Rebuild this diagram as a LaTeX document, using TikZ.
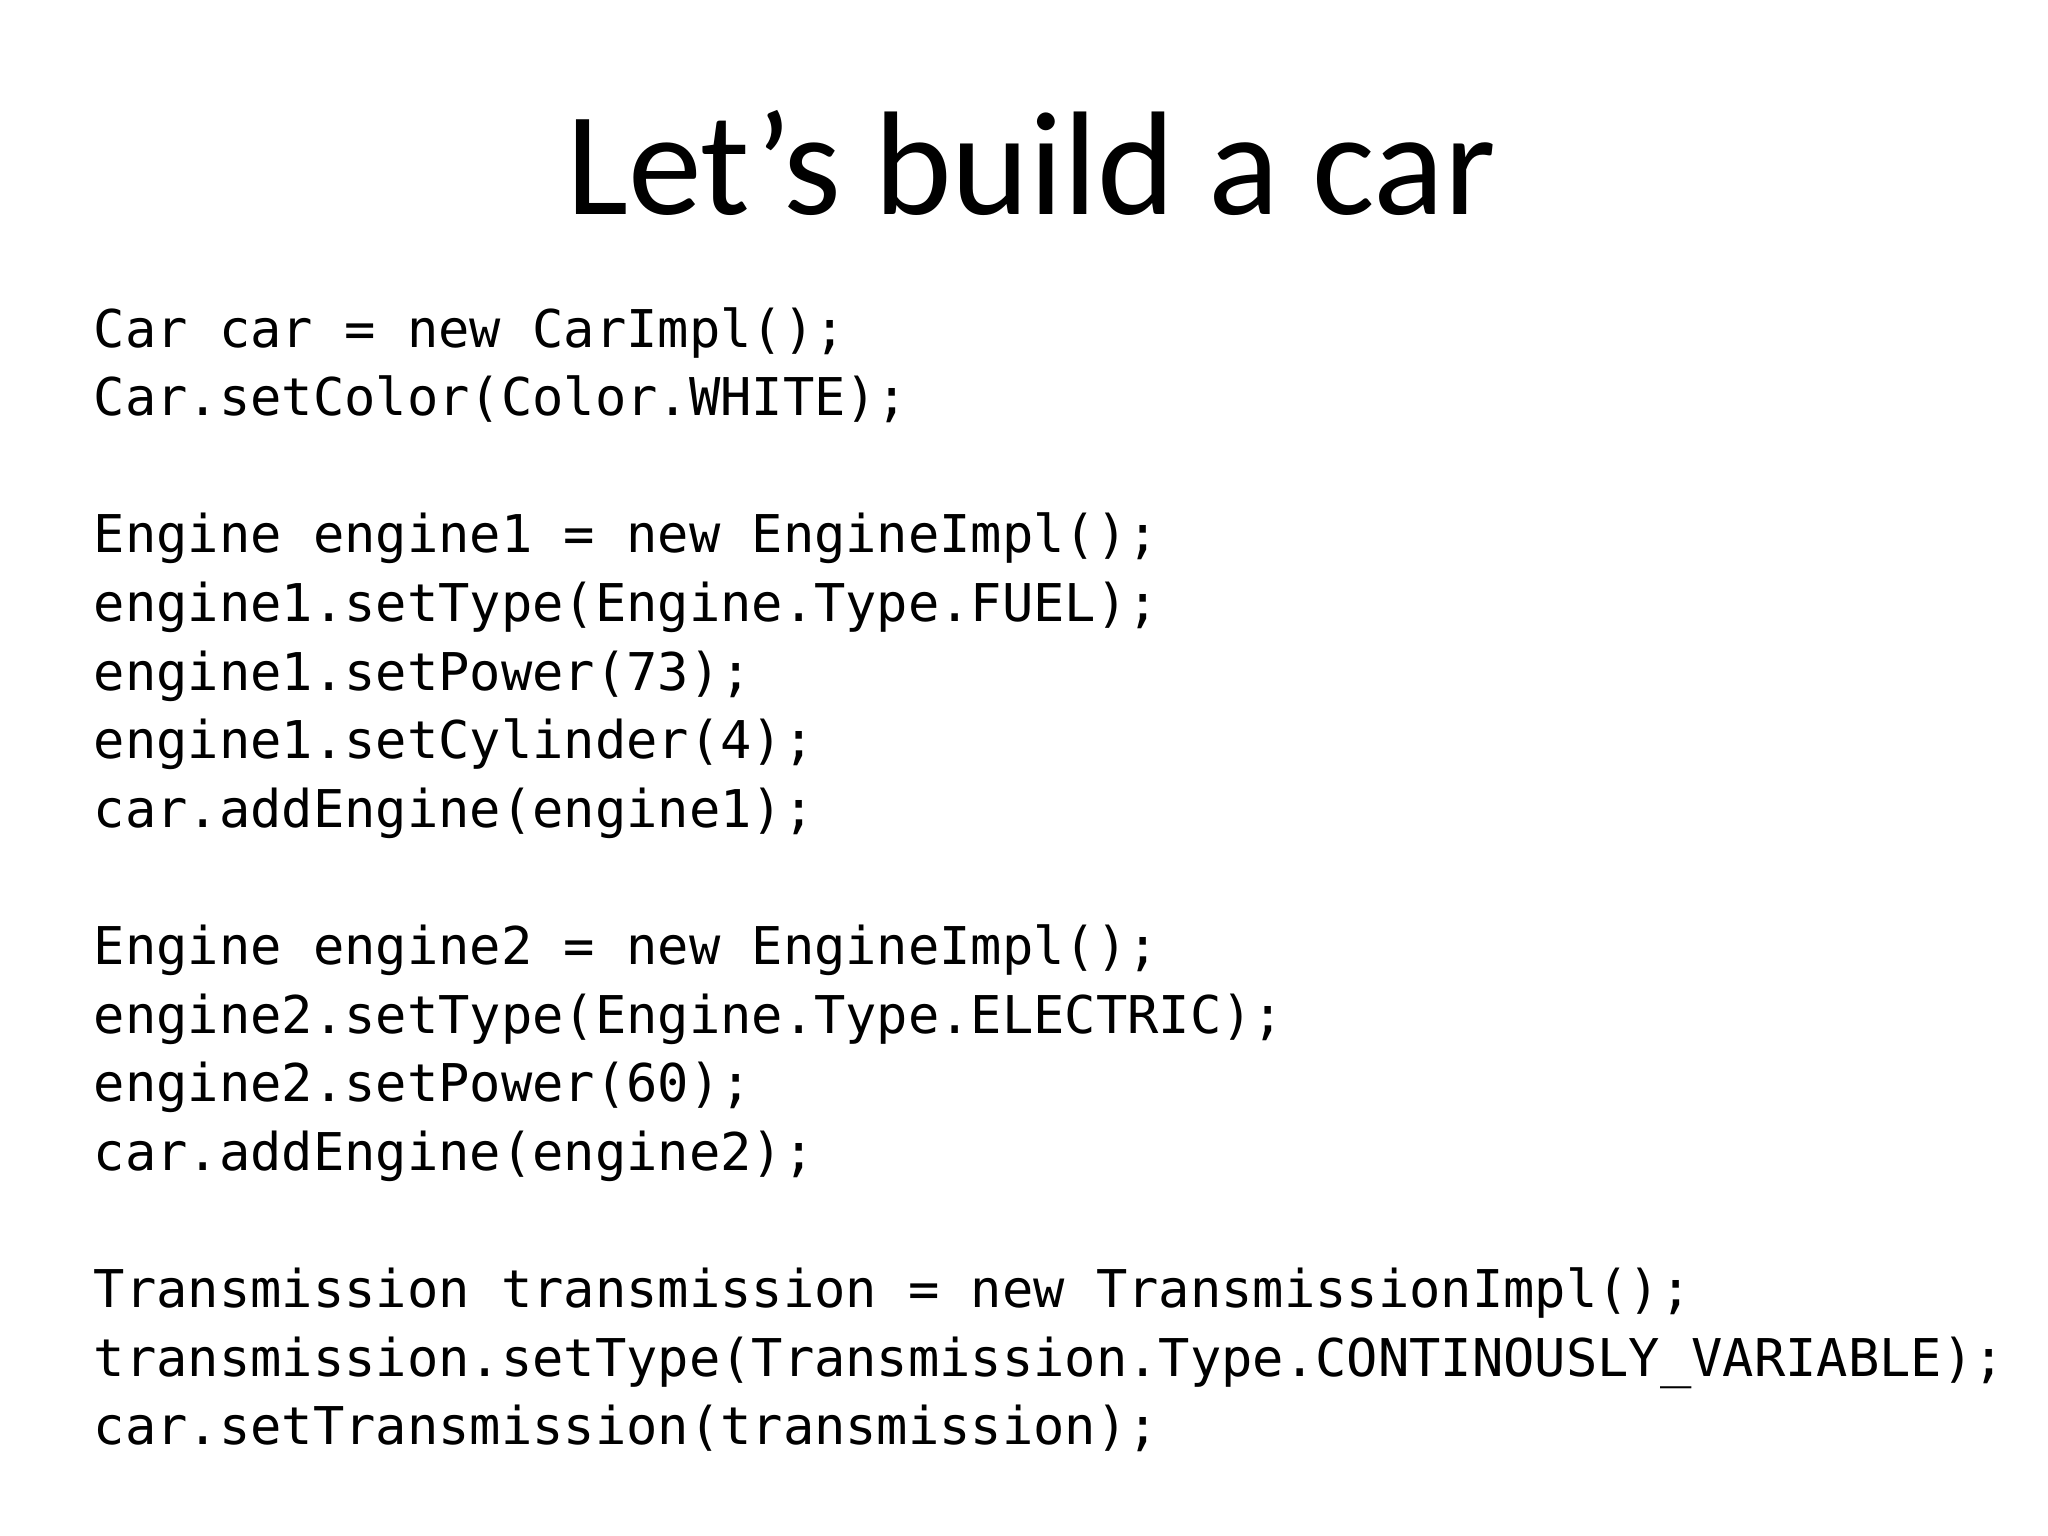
\documentclass[tikz,border=0pt]{standalone}
\usepackage{fontspec}
\setmainfont{Carlito}
\newfontfamily\codefont{DejaVu Sans Mono}
\begin{document}
\begin{tikzpicture}[x=0.01cm,y=-0.01cm]
\tikzset{codeline/.style={anchor=base west,inner sep=0pt,font=\codefont\fontsize{14.8pt}{18pt}\selectfont}}
\useasboundingbox[fill=white] (0,0) rectangle (2048,1536);
\node[anchor=base,inner sep=0pt,font=\fontsize{42pt}{46pt}\selectfont] (title) at (1031,214) {Let\symbol{39}s build a car};
\foreach \k/\t [count=\i] in {
0/{Car car = new CarImpl();},
1/{Car.setColor(Color.WHITE);},
3/{Engine engine1 = new EngineImpl();},
4/{engine1.setType(Engine.Type.FUEL);},
5/{engine1.setPower(73);},
6/{engine1.setCylinder(4);},
7/{car.addEngine(engine1);},
9/{Engine engine2 = new EngineImpl();},
10/{engine2.setType(Engine.Type.ELECTRIC);},
11/{engine2.setPower(60);},
12/{car.addEngine(engine2);},
14/{Transmission transmission = new TransmissionImpl();},
15/{transmission.setType(Transmission.Type.CONTINOUSLY\_VARIABLE);},
16/{car.setTransmission(transmission);}}
{\node[codeline] (l\i) at (93,347+\k*68.6) {\t};}
\end{tikzpicture}
\end{document}
